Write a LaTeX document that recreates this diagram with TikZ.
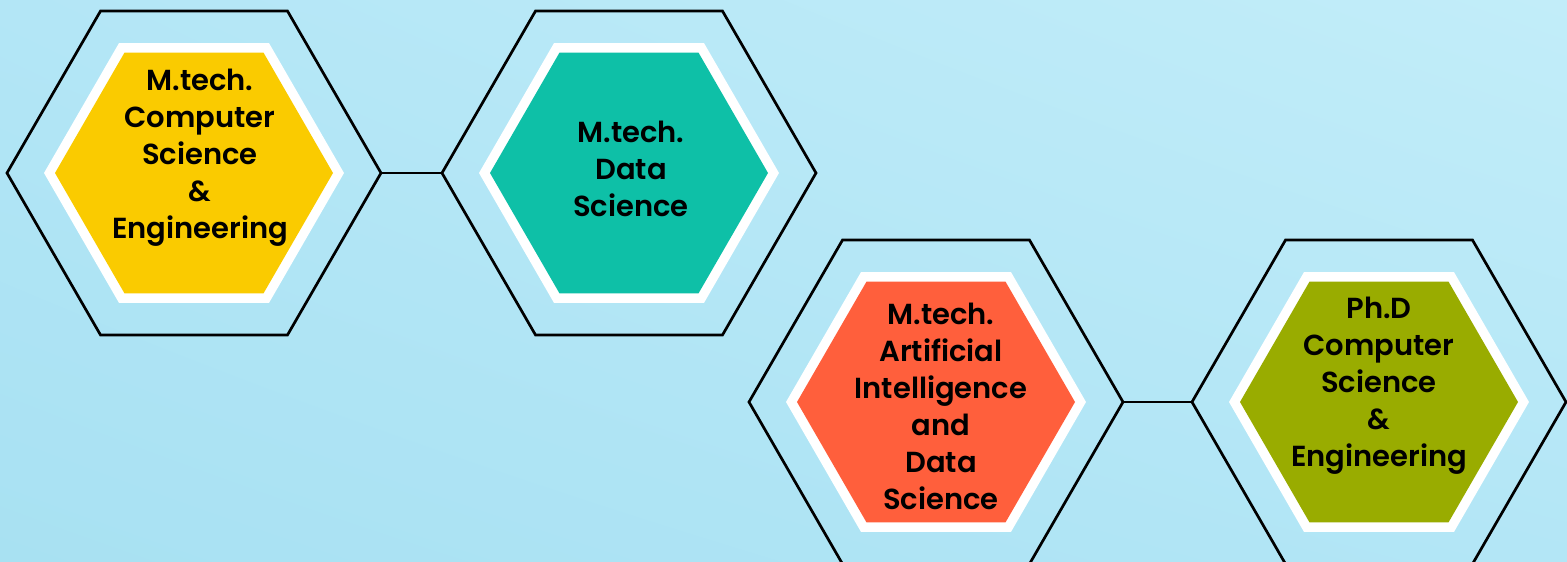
\documentclass[tikz,border=0pt]{standalone}
\usepackage{fontspec}
\setmainfont{Poppins}[BoldFont={Poppins SemiBold}]
\usetikzlibrary{shapes.geometric,shadings}

\definecolor{skylow}{HTML}{A8E1F2}
\definecolor{skymid}{HTML}{B3E6F6}
\definecolor{skyhigh}{HTML}{C2EDF9}
\definecolor{hexyellow}{HTML}{FACB00}
\definecolor{hexteal}{HTML}{0EC0A7}
\definecolor{hexred}{HTML}{FF5F3C}
\definecolor{hexolive}{HTML}{99AC00}

\begin{document}
\begin{tikzpicture}[
      x=1pt, y=-1pt,
      frame/.style={
        draw=black,
        line width=2.7pt,
        regular polygon,
        regular polygon sides=6,
        minimum size=374pt,
        inner sep=0pt,
        outer sep=0pt
      },
      rim/.style={
        fill=white,
        regular polygon,
        regular polygon sides=6,
        minimum size=300pt,
        inner sep=0pt
      },
      core/.style={
        fill=#1,
        regular polygon,
        regular polygon sides=6,
        minimum size=278pt,
        inner sep=0pt
      },
      hextext/.style={
        align=center,
        text=black,
        font=\fontsize{29}{37}\selectfont\bfseries
      },
      link/.style={
        line width=2.7pt
      },
    ]

    \useasboundingbox (0,0) rectangle (1567,562);
    \shade[lower left=skylow, upper left=skymid, lower right=skymid, upper right=skyhigh]
      (0,0) rectangle (1567,562);

    % upper row
    \node [frame] (cse) at (194,173) {};
    \node [rim] (cse-rim) at (cse) {};
    \node [core=hexyellow] (cse-core) at (cse) {};
    \node [hextext] (cse-text) at (200,158) {M.tech.\\Computer\\Science\\\&\\Engineering};

    \node [frame] (ds) at (629,173) {};
    \node [rim] (ds-rim) at (ds) {};
    \node [core=hexteal] (ds-core) at (ds) {};
    \node [hextext] (ds-text) at (631,169) {M.tech.\\Data\\Science};

    % lower row
    \node [frame] (aids) at (936,402) {};
    \node [rim] (aids-rim) at (aids) {};
    \node [core=hexred] (aids-core) at (aids) {};
    \node [hextext] (aids-text) at (941,406) {M.tech.\\Artificial\\Intelligence\\and\\Data\\Science};

    \node [frame] (phd) at (1379,402) {};
    \node [rim] (phd-rim) at (phd) {};
    \node [core=hexolive] (phd-core) at (phd) {};
    \node [hextext] (phd-text) at (1379,386) {Ph.D\\Computer\\Science\\\&\\Engineering};

    \draw [link] (cse.east) -- (ds.west);
    \draw [link, line width=2pt] (aids.east) -- (phd.west);
  \end{tikzpicture}
\end{document}
